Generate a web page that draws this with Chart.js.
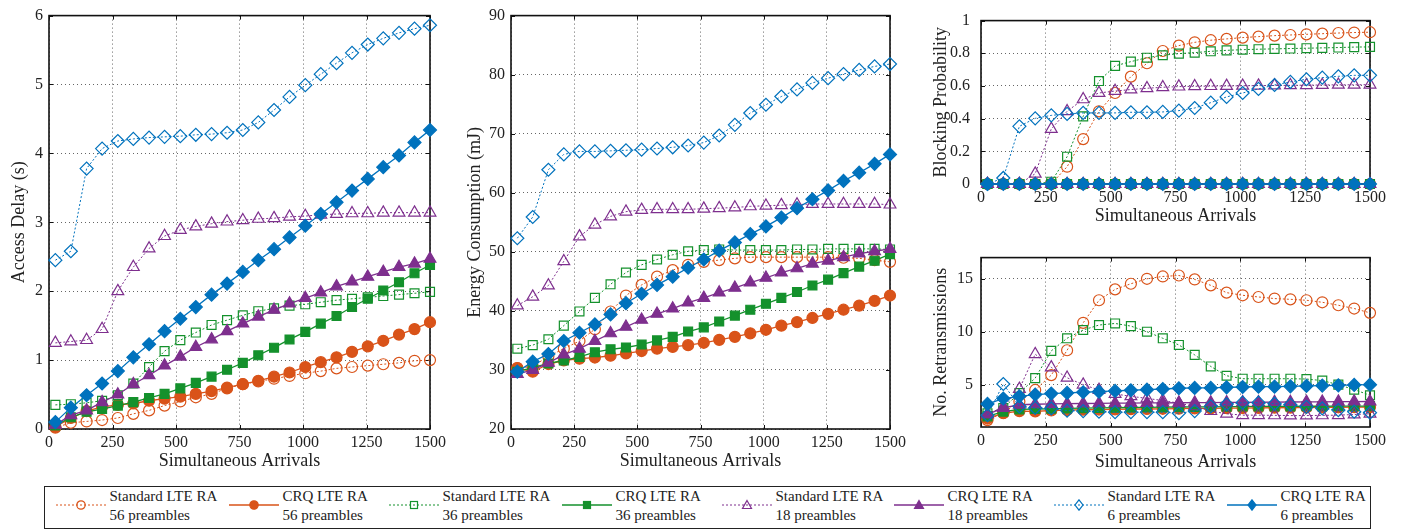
<!DOCTYPE html>
<html>
<head>
<meta charset="utf-8">
<script src="https://cdn.jsdelivr.net/npm/chart.js@4.4.1/dist/chart.umd.min.js"></script>
<style>
  html, body { margin: 0; padding: 0; background: #fff; }
  body { width: 1402px; height: 531px; position: relative; overflow: hidden;
         font-family: "Liberation Serif", "Times New Roman", serif; color: #222; }
  canvas { position: absolute; }
  #legend { position: absolute; left: 44px; top: 486px; width: 1327px; height: 43px;
            border: 1.5px solid #222; box-sizing: border-box; }
  .lg-sample { position: absolute; top: 12px; height: 12px; }
  .lg-sample svg { display: block; }
  .lg-text { position: absolute; top: 0px; font-size: 15px; line-height: 19px; white-space: nowrap; }
</style>
</head>
<body>
<canvas id="delayChart" width="450" height="480" style="left:0;top:0"></canvas>
<canvas id="energyChart" width="450" height="480" style="left:460px;top:0"></canvas>
<canvas id="blockChart" width="482" height="240" style="left:920px;top:0"></canvas>
<canvas id="retxChart" width="482" height="240" style="left:920px;top:240px"></canvas>
<div id="legend"></div>
<script>
// x: number of simultaneous arrivals
const arrivals = [25, 86, 148, 209, 271, 332, 394, 455, 517, 578, 640, 701, 763, 824, 886, 947, 1009, 1070, 1132, 1193, 1255, 1316, 1378, 1439, 1500];
const arrivalTicks = [0, 250, 500, 750, 1000, 1250, 1500];

const seriesLabels = ['Standard LTE RA', 'CRQ LTE RA', 'Standard LTE RA', 'CRQ LTE RA',
                      'Standard LTE RA', 'CRQ LTE RA', 'Standard LTE RA', 'CRQ LTE RA'];
const seriesPreambles = ['56 preambles', '56 preambles', '36 preambles', '36 preambles',
                         '18 preambles', '18 preambles', '6 preambles', '6 preambles'];

// access delay (s)
const delayTicks = [0, 1, 2, 3, 4, 5, 6];
const delayStd56 = [0.02, 0.09, 0.11, 0.13, 0.16, 0.22, 0.27, 0.34, 0.40, 0.46, 0.51, 0.59, 0.65, 0.69, 0.73, 0.77, 0.81, 0.84, 0.88, 0.90, 0.92, 0.94, 0.96, 0.99, 1.00];
const delayCrq56 = [0.03, 0.16, 0.26, 0.32, 0.35, 0.37, 0.41, 0.44, 0.47, 0.51, 0.55, 0.60, 0.65, 0.70, 0.76, 0.82, 0.90, 0.97, 1.04, 1.12, 1.20, 1.28, 1.37, 1.45, 1.55];
const delayStd36 = [0.35, 0.36, 0.38, 0.41, 0.49, 0.66, 0.90, 1.13, 1.29, 1.40, 1.51, 1.58, 1.65, 1.71, 1.75, 1.79, 1.81, 1.84, 1.87, 1.89, 1.91, 1.93, 1.95, 1.97, 1.99];
const delayCrq36 = [0.05, 0.17, 0.25, 0.29, 0.34, 0.39, 0.45, 0.51, 0.59, 0.67, 0.76, 0.86, 0.96, 1.07, 1.18, 1.30, 1.41, 1.53, 1.64, 1.77, 1.89, 2.01, 2.13, 2.26, 2.38];
const delayStd18 = [1.25, 1.27, 1.29, 1.45, 2.00, 2.35, 2.62, 2.80, 2.89, 2.94, 2.98, 3.01, 3.03, 3.05, 3.06, 3.08, 3.09, 3.11, 3.12, 3.13, 3.13, 3.14, 3.14, 3.14, 3.14];
const delayCrq18 = [0.06, 0.20, 0.27, 0.39, 0.50, 0.65, 0.78, 0.92, 1.05, 1.19, 1.30, 1.42, 1.53, 1.63, 1.73, 1.82, 1.90, 1.98, 2.07, 2.14, 2.21, 2.28, 2.35, 2.40, 2.47];
const delayStd6  = [2.45, 2.58, 3.78, 4.07, 4.18, 4.21, 4.23, 4.24, 4.25, 4.27, 4.28, 4.30, 4.34, 4.45, 4.63, 4.82, 4.99, 5.15, 5.31, 5.46, 5.58, 5.67, 5.75, 5.81, 5.86];
const delayCrq6  = [0.10, 0.31, 0.49, 0.66, 0.84, 1.04, 1.23, 1.42, 1.60, 1.77, 1.95, 2.11, 2.28, 2.45, 2.61, 2.78, 2.95, 3.12, 3.29, 3.46, 3.63, 3.80, 3.97, 4.16, 4.34];

// energy consumption (mJ)
const energyTicks = [20, 30, 40, 50, 60, 70, 80, 90];
const energyStd56 = [30.3, 30.6, 32.3, 33.6, 34.9, 36.9, 39.9, 42.6, 44.4, 45.8, 46.9, 47.8, 48.3, 48.6, 48.9, 49.1, 49.1, 49.1, 49.1, 49.1, 49.1, 49.0, 48.9, 48.6, 48.3];
const energyCrq56 = [30.3, 29.7, 31.0, 31.6, 31.9, 32.1, 32.4, 32.8, 33.2, 33.6, 33.9, 34.2, 34.6, 35.1, 35.6, 36.2, 36.8, 37.5, 38.1, 38.8, 39.5, 40.2, 40.9, 41.7, 42.6];
const energyStd36 = [33.6, 34.2, 35.2, 37.5, 39.9, 42.2, 44.5, 46.5, 47.8, 48.7, 49.5, 50.1, 50.3, 50.4, 50.3, 50.3, 50.3, 50.3, 50.4, 50.4, 50.5, 50.5, 50.5, 50.5, 50.4];
const energyCrq36 = [29.7, 30.4, 31.1, 31.6, 32.2, 33.0, 33.5, 33.8, 34.3, 35.0, 35.6, 36.5, 37.2, 38.2, 39.2, 40.2, 41.2, 42.2, 43.2, 44.3, 45.3, 46.4, 47.5, 48.5, 49.6];
const energyStd18 = [40.9, 42.4, 44.3, 48.4, 52.6, 54.6, 56.0, 56.8, 57.1, 57.2, 57.2, 57.2, 57.3, 57.4, 57.5, 57.7, 57.8, 57.9, 58.0, 58.1, 58.1, 58.1, 58.1, 58.1, 58.0];
const energyCrq18 = [29.3, 30.0, 31.2, 32.6, 33.6, 34.9, 36.2, 37.3, 38.5, 39.5, 40.4, 41.4, 42.2, 43.1, 43.9, 44.8, 45.6, 46.5, 47.2, 48.0, 48.5, 49.1, 49.7, 50.1, 50.5];
const energyStd6  = [52.3, 55.9, 63.9, 66.5, 67.0, 67.0, 67.1, 67.2, 67.3, 67.5, 67.7, 68.0, 68.5, 69.7, 71.5, 73.5, 74.9, 76.3, 77.5, 78.6, 79.4, 80.1, 80.8, 81.4, 81.8];
const energyCrq6  = [29.7, 31.4, 32.7, 34.9, 36.3, 37.7, 39.4, 41.3, 42.9, 44.4, 45.8, 47.3, 48.7, 50.2, 51.6, 53.0, 54.3, 55.8, 57.4, 58.9, 60.4, 62.0, 63.4, 64.9, 66.5];

// blocking probability
const blockTicks = [0, 0.2, 0.4, 0.6, 0.8, 1];
const blockStd56 = [0, 0, 0, 0, 0, 0.106, 0.275, 0.445, 0.557, 0.657, 0.739, 0.814, 0.847, 0.867, 0.880, 0.888, 0.896, 0.902, 0.908, 0.912, 0.916, 0.920, 0.924, 0.927, 0.929];
const blockStd36 = [0, 0, 0, 0, 0.014, 0.167, 0.414, 0.630, 0.723, 0.749, 0.773, 0.788, 0.798, 0.804, 0.812, 0.818, 0.822, 0.825, 0.827, 0.829, 0.831, 0.833, 0.835, 0.838, 0.839];
const blockStd18 = [0, 0, 0, 0.063, 0.337, 0.445, 0.518, 0.557, 0.569, 0.578, 0.586, 0.592, 0.596, 0.598, 0.599, 0.600, 0.601, 0.602, 0.603, 0.604, 0.605, 0.606, 0.607, 0.607, 0.608];
const blockStd6  = [0, 0.037, 0.353, 0.402, 0.420, 0.429, 0.435, 0.435, 0.435, 0.439, 0.439, 0.441, 0.449, 0.465, 0.498, 0.533, 0.557, 0.582, 0.606, 0.625, 0.641, 0.651, 0.659, 0.665, 0.665];
// every CRQ configuration shows no blocking at all
const blockCrq = [0, 0, 0, 0, 0, 0, 0, 0, 0, 0, 0, 0, 0, 0, 0, 0, 0, 0, 0, 0, 0, 0, 0, 0, 0];

// number of retransmissions
const retxTicks = [5, 10, 15];
const retxStd56 = [1.65, 2.35, 3.40, 4.50, 5.90, 8.25, 10.84, 12.97, 14.00, 14.53, 15.00, 15.22, 15.31, 14.94, 14.38, 13.69, 13.44, 13.28, 13.13, 13.06, 12.97, 12.78, 12.50, 12.19, 11.78];
const retxCrq56 = [1.80, 2.30, 2.50, 2.48, 2.56, 2.60, 2.63, 2.65, 2.67, 2.69, 2.70, 2.72, 2.73, 2.75, 2.76, 2.78, 2.79, 2.80, 2.82, 2.83, 2.84, 2.85, 2.86, 2.87, 2.88];
const retxStd36 = [2.30, 2.80, 4.20, 5.62, 8.19, 9.38, 10.16, 10.63, 10.78, 10.53, 10.00, 9.38, 8.75, 7.81, 6.72, 5.84, 5.56, 5.56, 5.56, 5.56, 5.53, 5.38, 5.00, 4.53, 4.00];
const retxCrq36 = [2.00, 2.45, 2.66, 2.70, 2.72, 2.75, 2.78, 2.80, 2.82, 2.84, 2.86, 2.88, 2.89, 2.90, 2.91, 2.92, 2.93, 2.94, 2.95, 2.95, 2.96, 2.96, 2.97, 2.97, 2.97];
const retxStd18 = [2.20, 2.90, 4.60, 7.88, 6.63, 5.65, 5.00, 4.50, 4.12, 3.90, 3.70, 3.50, 3.25, 2.95, 2.50, 2.25, 2.12, 2.12, 2.10, 2.08, 2.08, 2.10, 2.12, 2.18, 2.25];
const retxCrq18 = [2.20, 2.80, 3.10, 3.15, 3.18, 3.20, 3.22, 3.24, 3.25, 3.26, 3.27, 3.28, 3.29, 3.30, 3.31, 3.32, 3.33, 3.34, 3.35, 3.36, 3.37, 3.38, 3.39, 3.40, 3.41];
const retxStd6  = [2.12, 5.06, 2.95, 2.80, 2.75, 2.55, 2.50, 2.45, 2.40, 2.40, 2.40, 2.40, 2.30, 2.50, 2.95, 3.15, 3.30, 3.30, 3.20, 3.10, 2.90, 2.75, 2.60, 2.45, 2.35];
const retxCrq6  = [3.18, 3.69, 3.90, 4.06, 4.16, 4.22, 4.28, 4.34, 4.41, 4.47, 4.53, 4.59, 4.66, 4.69, 4.69, 4.75, 4.78, 4.81, 4.81, 4.84, 4.88, 4.91, 4.94, 4.97, 5.00];

// ---- styles ----
const ORANGE = '#D95319', GREEN = '#14912C', PURPLE = '#7E2F8E', BLUE = '#0072BD';
const seriesStyle = [
  { color: ORANGE, shape: 'circle',   filled: false, r: 5.5 },
  { color: ORANGE, shape: 'circle',   filled: true,  r: 5.5 },
  { color: GREEN,  shape: 'rect',     filled: false, r: 6.3 },
  { color: GREEN,  shape: 'rect',     filled: true,  r: 6.3 },
  { color: PURPLE, shape: 'triangle', filled: false, r: 6.8 },
  { color: PURPLE, shape: 'triangle', filled: true,  r: 6.8 },
  { color: BLUE,   shape: 'rectRot',  filled: false, r: 6.5 },
  { color: BLUE,   shape: 'rectRot',  filled: true,  r: 6.5 }
];
const FONT = '"Liberation Serif", "Times New Roman", serif';
const TEXT = '#222';

// box around the plot area with small inward ticks
const framePlugin = {
  id: 'frame',
  beforeDatasetsDraw(chart) {
    const { ctx, chartArea: a, scales: { x, y } } = chart;
    ctx.save();
    ctx.strokeStyle = '#111';
    ctx.lineWidth = 1;
    ctx.beginPath();
    x.ticks.forEach(t => {
      const px = Math.round(x.getPixelForValue(t.value)) + 0.5;
      ctx.moveTo(px, a.bottom); ctx.lineTo(px, a.bottom - 4);
      ctx.moveTo(px, a.top); ctx.lineTo(px, a.top + 4);
    });
    y.ticks.forEach(t => {
      const py = Math.round(y.getPixelForValue(t.value)) + 0.5;
      ctx.moveTo(a.left, py); ctx.lineTo(a.left + 4, py);
      ctx.moveTo(a.right, py); ctx.lineTo(a.right - 4, py);
    });
    ctx.stroke();
    ctx.lineWidth = 1.6;
    ctx.strokeRect(a.left, a.top, a.right - a.left, a.bottom - a.top);
    ctx.restore();
  }
};

function toPoints(values) {
  return values.map((v, i) => ({ x: arrivals[i], y: v }));
}

function makeDatasets(seriesList) {
  return seriesList.map((vals, i) => {
    const st = seriesStyle[i];
    const isStd = i % 2 === 0;
    return {
      label: seriesLabels[i] + ' ' + seriesPreambles[i],
      data: toPoints(vals),
      borderColor: st.color,
      backgroundColor: st.color,
      borderWidth: isStd ? 1 : 1.3,
      borderDash: isStd ? [2, 2] : [],
      pointStyle: st.shape,
      pointRadius: st.r,
      pointBorderWidth: 1.2,
      pointBorderColor: st.color,
      pointBackgroundColor: st.filled ? st.color : 'rgba(255,255,255,0)',
      tension: 0,
      clip: false,
      order: seriesList.length - i
    };
  });
}

function fixedTicks(values) {
  return scale => { scale.ticks = values.map(v => ({ value: v })); };
}

function makePanel(id, seriesList, yTicks, yMin, yMax, yTitle, g) {
  new Chart(document.getElementById(id), {
    type: 'line',
    data: { datasets: makeDatasets(seriesList) },
    options: {
      responsive: false,
      animation: false,
      layout: { padding: { top: g.top, right: g.right, left: 0, bottom: 0 } },
      plugins: { legend: { display: false }, tooltip: { enabled: false } },
      scales: {
        x: {
          type: 'linear', min: 0, max: 1500,
          afterBuildTicks: fixedTicks(arrivalTicks),
          afterFit: s => { s.height = g.xh; },
          ticks: { color: TEXT, font: { family: FONT, size: 16 }, padding: 4, maxRotation: 0,
                   callback: v => String(v) },
          grid: { color: '#666', lineWidth: 1, drawTicks: false },
          border: { display: false, dash: [1, 3] },
          title: { display: true, text: 'Simultaneous Arrivals', color: TEXT,
                   font: { family: FONT, size: 18 }, padding: { top: 0, bottom: g.xtp } }
        },
        y: {
          type: 'linear', min: yMin, max: yMax,
          afterBuildTicks: fixedTicks(yTicks),
          afterFit: s => { s.width = g.yw; },
          ticks: { color: TEXT, font: { family: FONT, size: 16 }, padding: g.ytk,
                   callback: v => String(v) },
          grid: { color: '#666', lineWidth: 1, drawTicks: false },
          border: { display: false, dash: [1, 3] },
          title: { display: true, text: yTitle, color: TEXT,
                   font: { family: FONT, size: 18 }, padding: { top: g.ytp, bottom: 0 } }
        }
      }
    },
    plugins: [framePlugin]
  });
}

makePanel('delayChart',
  [delayStd56, delayCrq56, delayStd36, delayCrq36, delayStd18, delayCrq18, delayStd6, delayCrq6],
  delayTicks, 0, 6, 'Access Delay (s)',
  { top: 14, right: 13, xh: 51, yw: 49, xtp: 8, ytp: 8, ytk: 6 });

makePanel('energyChart',
  [energyStd56, energyCrq56, energyStd36, energyCrq36, energyStd18, energyCrq18, energyStd6, energyCrq6],
  energyTicks, 20, 90, 'Energy Consumption (mJ)',
  { top: 14, right: 10, xh: 51, yw: 51, xtp: 8, ytp: 4, ytk: 6 });

makePanel('blockChart',
  [blockStd56, blockCrq, blockStd36, blockCrq, blockStd18, blockCrq, blockStd6, blockCrq],
  blockTicks, 0, 1, 'Blocking Probability',
  { top: 14, right: 32, xh: 56, yw: 61, xtp: 13, ytp: 10, ytk: 11 });

makePanel('retxChart',
  [retxStd56, retxCrq56, retxStd36, retxCrq36, retxStd18, retxCrq18, retxStd6, retxCrq6],
  retxTicks, 1, 17, 'No. Retransmissions',
  { top: 15, right: 32, xh: 53, yw: 61, xtp: 7, ytp: 10, ytk: 8 });

// legend: sample line with marker, then two text lines
const legendTextLeft = [110, 283, 443, 616, 776, 948, 1108, 1281];
const legend = document.getElementById('legend');
function markerSvg(st) {
  const c = st.color, fill = st.filled ? c : 'none';
  if (st.shape === 'circle') return `<circle cx="25" cy="6" r="4.2" fill="${fill}" stroke="${c}" stroke-width="1.2"/>`;
  if (st.shape === 'rect') return `<rect x="21.5" y="2.5" width="7" height="7" fill="${fill}" stroke="${c}" stroke-width="1.2"/>`;
  if (st.shape === 'triangle') return `<polygon points="25,1.5 29.5,9.5 20.5,9.5" fill="${fill}" stroke="${c}" stroke-width="1.2"/>`;
  return `<polygon points="25,0.8 29,6 25,11.2 21,6" fill="${fill}" stroke="${c}" stroke-width="1.2"/>`;
}
seriesStyle.forEach((st, i) => {
  const isStd = i % 2 === 0;
  const left = legendTextLeft[i] - 45.5;
  const svg = document.createElement('div');
  svg.className = 'lg-sample';
  svg.style.left = (left - 54) + 'px';
  svg.innerHTML = `<svg width="50" height="12"><line x1="0" y1="6" x2="50" y2="6" stroke="${st.color}"
    stroke-width="${isStd ? 1 : 1.3}" ${isStd ? 'stroke-dasharray="2,2"' : ''}/>${markerSvg(st)}</svg>`;
  legend.appendChild(svg);
  const txt = document.createElement('div');
  txt.className = 'lg-text';
  txt.style.left = left + 'px';
  txt.innerHTML = seriesLabels[i] + '<br>' + seriesPreambles[i];
  legend.appendChild(txt);
});
</script>
</body>
</html>
